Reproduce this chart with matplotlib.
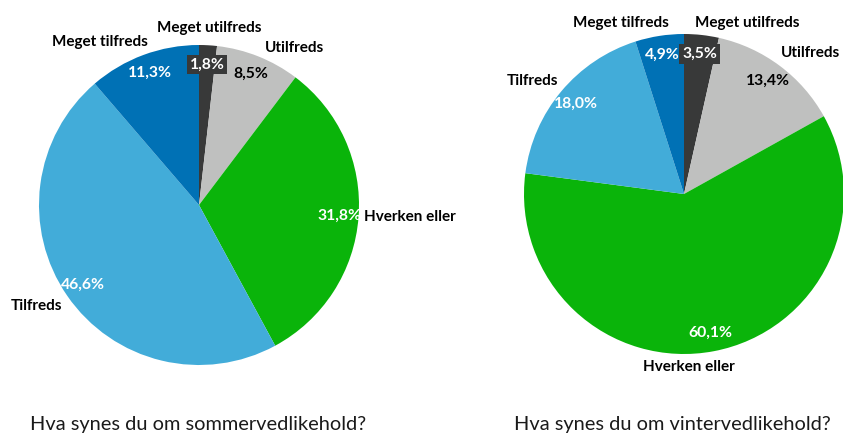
import numpy as np
import matplotlib
matplotlib.use('Agg')
import matplotlib.pyplot as plt

plt.rcParams['font.family'] = ['Lato', 'DejaVu Sans']

# data
categories = ['Meget utilfreds', 'Utilfreds', 'Hverken eller', 'Tilfreds', 'Meget tilfreds']
summer = [1.8, 8.5, 31.8, 46.6, 11.3]
winter = [3.5, 13.4, 60.1, 18.0, 4.9]
titles = ['Hva synes du om sommervedlikehold?', 'Hva synes du om vintervedlikehold?']

colors = ['#383939', '#BFC0BF', '#0AB40A', '#42ACD9', '#0071B5']
pct_colors = ['white', 'black', 'white', 'white', 'white']

W, H = 843, 433
fig = plt.figure(figsize=(W / 100, H / 100), dpi=100)
ax = fig.add_axes([0, 0, 1, 1])

R = 160
# layout per pie: center (px, y down), label alignment, label nudges (px)
layouts = [
    dict(center=(199, 205), title_x=198,
         ha=['center', 'left', 'left', 'right', 'right'],
         nudge=[(0, -1), (1, 6), (-10, -1), (8, 1), (10, 2)]),
    dict(center=(684, 194), title_x=672,
         ha=['left', 'left', 'center', 'right', 'right'],
         nudge=[(-8, 4), (-8, 0), (-28, 0), (9, 0), (12, 3)]),
]

for vals, lay, title in zip([summer, winter], layouts, titles):
    cx, cy = lay['center']
    wedges, _ = ax.pie(vals, colors=colors, startangle=90, counterclock=False,
                       center=(cx, H - cy), radius=R, frame=True,
                       wedgeprops=dict(linewidth=0))
    for i, w in enumerate(wedges):
        mid = np.deg2rad((w.theta1 + w.theta2) / 2)
        # percentage label
        px = cx + 0.88 * R * np.cos(mid)
        py = H - cy + 0.88 * R * np.sin(mid)
        txt = f'{vals[i]:.1f}%'.replace('.', ',')
        bbox = None
        if vals[i] < 4:
            bbox = dict(boxstyle='square,pad=0.18', fc=colors[i], ec='none')
        ax.text(px, py, txt, ha='center', va='center', fontsize=11.3,
                fontweight='bold', color=pct_colors[i], bbox=bbox)
        # category label
        lx = cx + 1.1 * R * np.cos(mid) + lay['nudge'][i][0]
        ly = H - cy + 1.1 * R * np.sin(mid) - lay['nudge'][i][1]
        ax.text(lx, ly, categories[i], ha=lay['ha'][i], va='center',
                fontsize=11, fontweight='bold', color='black')
    ax.text(lay['title_x'], H - 430, title, ha='center', va='baseline',
            fontsize=14.4, color='#1a1a1a')

ax.set_xlim(0, W)
ax.set_ylim(0, H)
ax.set_aspect('equal')
ax.axis('off')

fig.savefig('out.png', dpi=100)
